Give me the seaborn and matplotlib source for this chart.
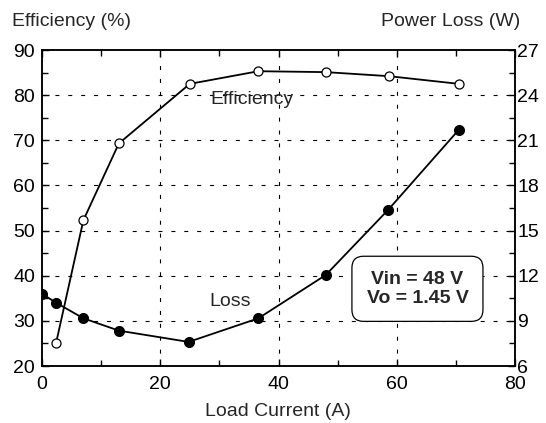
import matplotlib
matplotlib.use('Agg')
import matplotlib.pyplot as plt
import seaborn as sns
from matplotlib.ticker import MultipleLocator

# Efficiency curve (left axis, %)
eff_current = [2.4, 7.0, 13.0, 25.0, 36.6, 48.0, 58.7, 70.5]
efficiency = [25.2, 52.3, 69.3, 82.5, 85.3, 85.1, 84.2, 82.5]

# Power loss curve (right axis, W)
loss_current = [0.0, 2.4, 7.0, 13.0, 24.8, 36.6, 48.0, 58.6, 70.5]
power_loss = [10.8, 10.2, 9.17, 8.35, 7.6, 9.17, 12.05, 16.4, 21.7]

sns.set_style("ticks")
plt.rcParams['font.family'] = ['Liberation Sans', 'DejaVu Sans']

FS = 14
fig = plt.figure(figsize=(5.46, 4.23), dpi=100)
ax = fig.add_axes([42 / 546, 1 - 366 / 423, 473 / 546, 316 / 423])

sns.lineplot(x=eff_current, y=efficiency, ax=ax, color='black', linewidth=1.3,
             marker='o', markersize=6.5, markerfacecolor='white',
             markeredgecolor='black', markeredgewidth=0.9, zorder=3)

ax.set_xlim(0, 80)
ax.set_ylim(20, 90)
ax.xaxis.set_major_locator(MultipleLocator(20))
ax.xaxis.set_minor_locator(MultipleLocator(10))
ax.yaxis.set_major_locator(MultipleLocator(10))
ax.yaxis.set_minor_locator(MultipleLocator(5))
ax.tick_params(which='both', direction='in', top=True, labelsize=FS,
               width=1, color='black', labelcolor='black')
ax.tick_params(axis='y', pad=5, right=False)
ax.tick_params(axis='x', pad=7.5)
ax.tick_params(which='major', length=5)
ax.tick_params(which='minor', length=4)

dash = (0, (3.6, 8))
for x in [20, 40, 60]:
    ax.axvline(x, color='black', lw=0.8, ls=dash, zorder=1)
for y in [30, 40, 50, 60, 70, 80]:
    ax.axhline(y, color='black', lw=0.8, ls=dash, zorder=1)

ax2 = ax.twinx()
sns.lineplot(x=loss_current, y=power_loss, ax=ax2, color='black', linewidth=1.3,
             marker='o', markersize=7.2, markerfacecolor='black',
             markeredgecolor='black', zorder=3)
ax2.set_ylim(6, 27)
ax2.yaxis.set_major_locator(MultipleLocator(3))
ax2.yaxis.set_minor_locator(MultipleLocator(1.5))
ax2.tick_params(which='both', direction='in', labelsize=FS, width=1,
                color='black', labelcolor='black', pad=1.5)
ax2.tick_params(which='major', length=5)
ax2.tick_params(which='minor', length=4)

for a in (ax, ax2):
    for s in a.spines.values():
        s.set_visible(True)
        s.set_linewidth(1.1)
        s.set_color('black')
    a.set_xlabel('')
    a.set_ylabel('')

fig.text(12 / 546, 1 - 21 / 423, 'Efficiency (%)', fontsize=FS, va='center', ha='left')
fig.text(520 / 546, 1 - 21 / 423, 'Power Loss (W)', fontsize=FS, va='center', ha='right')
fig.text(278 / 546, 1 - 411 / 423, 'Load Current (A)', fontsize=FS, va='center', ha='center')

ax.text(35.5, 79.1, 'Efficiency', fontsize=FS, ha='center', va='center')
ax.text(31.8, 34.2, 'Loss', fontsize=FS, ha='center', va='center')
ax.text(63.5, 37.1, 'Vin = 48 V\nVo = 1.45 V', fontsize=FS, fontweight='bold',
        ha='center', va='center', linespacing=1.15,
        bbox=dict(boxstyle='round,pad=0.75,rounding_size=0.6', fc='white',
                  ec='black', lw=0.9), zorder=5)

fig.savefig('out.png', dpi=100)
